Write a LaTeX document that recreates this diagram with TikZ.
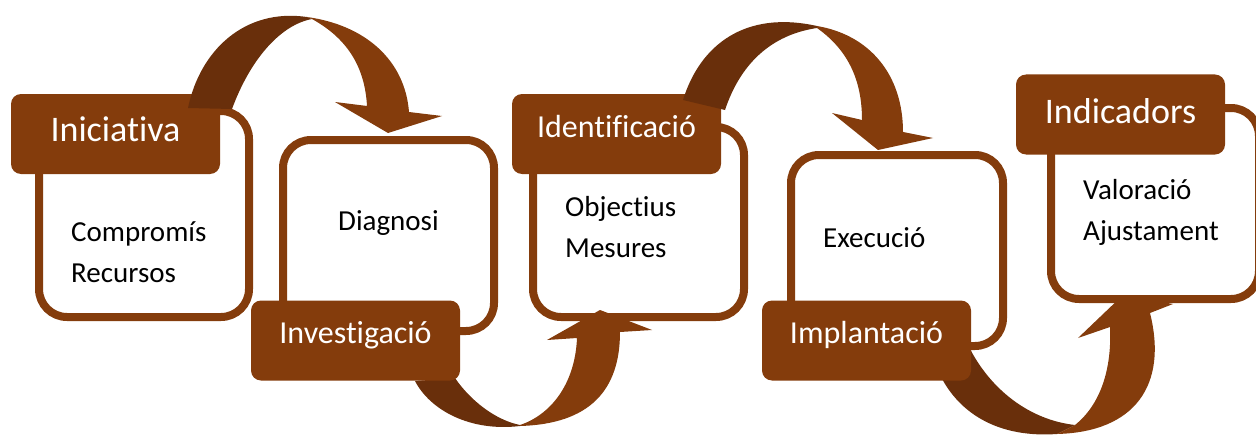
\documentclass[tikz,border=0pt]{standalone}
\usepackage{fontspec}
\setmainfont{Carlito}[Ligatures=NoCommon]

\definecolor{rust}{HTML}{843C0C}
\definecolor{rustdark}{HTML}{692F0B}

\begin{document}
\begin{tikzpicture}[x=1pt,y=-1pt,
    box/.style={rectangle,draw=rust,line width=8pt,fill=white,rounded corners=28pt,inner sep=0pt},
    head/.style={rectangle,fill=rust,rounded corners=10pt,minimum width=209pt,minimum height=80pt,inner sep=0pt,text=white},
    bighead/.style={head,font=\fontsize{36}{40}\selectfont},
    smallhead/.style={head,font=\fontsize{32}{36}\selectfont},
    body/.style={font=\fontsize{29}{41}\selectfont,align=left,anchor=base west,inner sep=0pt}]
    \useasboundingbox (0,0) rectangle (1256,436);

    % white boxes
    \node[box,minimum width=210pt,minimum height=206pt] (b1) at (144,214) {};
    \node[box,minimum width=211pt,minimum height=191pt] (b2) at (388.5,235.5) {};
    \node[box,minimum width=211pt,minimum height=190pt] (b3) at (638.5,222) {};
    \node[box,minimum width=212pt,minimum height=191pt] (b4) at (897,250.5) {};
    \node[box,minimum width=208pt,minimum height=191pt] (b5) at (1155,203.5) {};

    %%%%%%%%%%%%%%%%%%%%%%%%%%%%%%%%%%%
    % Investigacio -> Identificacio
    \fill[rustdark] (415,381) .. controls (430,410) and (470,432) .. (520,426)
        -- (520,425) .. controls (495,420) and (470,400) .. (455,378) -- cycle;
    \fill[rust] (520,426) .. controls (590,424) and (620,390) .. (620,332)
        -- (652,330) -- (600,310) -- (547,340) -- (577,338)
        .. controls (575,385) and (550,415) .. (520,425) -- cycle;

    % Implantacio -> Indicadors
    \fill[rustdark] (940,375) .. controls (960,415) and (1000,438) .. (1057,434)
        -- (1075,425) .. controls (1030,420) and (990,390) .. (968,345) -- cycle;
    \fill[rust] (1057,434) .. controls (1135,432) and (1168,385) .. (1150,313)
        -- (1173,304) -- (1123,295) -- (1078,338) -- (1110,327)
        .. controls (1112,370) and (1100,405) .. (1075,425) -- cycle;
    %%%%%%%%%%%%%%%%%%%%%%%%%%%%%%%%%%%

    % headers
    \node[bighead,text height=24pt,text depth=8.6pt] (h1) at (115.5,134) {Iniciativa};
    \node[smallhead,text height=21pt,text depth=16pt] (h2) at (355.5,340.5) {Investigació};
    \node[smallhead,text height=21pt,text depth=15pt] (h3) at (616.5,134) {Identificació};
    \node[smallhead,text height=21pt,text depth=16pt] (h4) at (866.5,340.5) {Implantació};
    \node[bighead,text height=24pt,text depth=6.4pt] (h5) at (1120.5,114.5) {Indicadors};

    %%%%%%%%%%%%%%%%%%%%%%%%%%%%%%%%%%%
    % Iniciativa -> Diagnosi
    \fill[rustdark] (188,108) .. controls (200,50) and (245,8) .. (307,17)
        -- (312,19) .. controls (280,25) and (250,60) .. (232,109) -- cycle;
    \fill[rust] (307,17) .. controls (365,25) and (405,60) .. (409,112)
        -- (442,116) -- (388,133) -- (335,102) -- (367,106)
        .. controls (365,70) and (350,40) .. (312,19) -- cycle;

    % Identificacio -> Execucio
    \fill[rustdark] (683,100) .. controls (700,45) and (745,10) .. (817,26)
        -- (817,28) .. controls (770,35) and (740,65) .. (725,110) -- cycle;
    \fill[rust] (817,26) .. controls (870,35) and (903,75) .. (903,132)
        -- (933,138) -- (878,150) -- (832,113) -- (862,120)
        .. controls (862,80) and (848,50) .. (817,28) -- cycle;
    %%%%%%%%%%%%%%%%%%%%%%%%%%%%%%%%%%%

    % box texts
    \node[body] (t1) at (71,282) {Compromís\\Recursos};
    \node[body] (t2) at (338,230) {Diagnosi};
    \node[body] (t3) at (565,257) {Objectius\\Mesures};
    \node[body] (t4) at (823,247) {Execució};
    \node[body] (t5) at (1083,240) {Valoració\\Ajustament};
\end{tikzpicture}
\end{document}
